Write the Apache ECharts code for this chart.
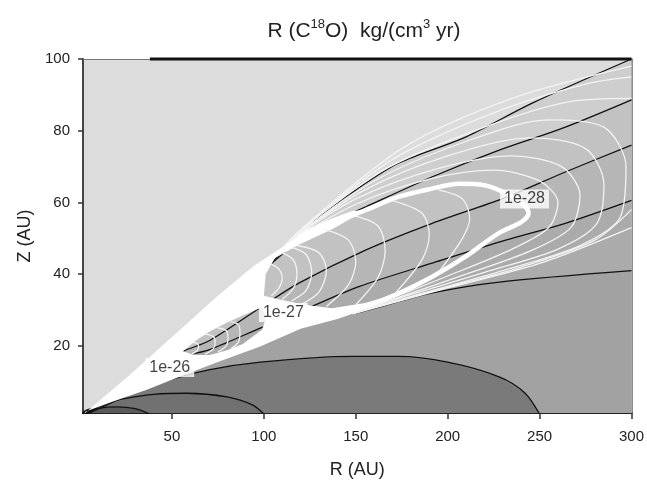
<!DOCTYPE html>
<html>
<head>
<meta charset="utf-8">
<script src="https://cdn.jsdelivr.net/npm/echarts@6/dist/echarts.min.js"></script>
<style>
  html, body { margin: 0; background: #fff; }
  #chart { width: 647px; height: 493px; }
</style>
</head>
<body>
<div id="chart"></div>
<script>
const FONT = "'Liberation Sans Narrow', 'Arial Narrow', 'Liberation Sans', sans-serif";

const xTicks = [50, 100, 150, 200, 250, 300];
const zTicks = [20, 40, 60, 80, 100];

// black contours of the background field, [R, Z]
const black0 = [[38, 100], [300, 100]];
const black1 = [[1, 0.2], [50, 18], [95, 39], [112, 46.5], [130, 56], [150, 63.5], [173.5, 71], [210, 78.3], [246, 87.7], [300, 100]];
const black2 = [[1, 0.2], [50, 17.5], [100, 41], [119, 50.2], [155.5, 58.8], [191.4, 67.1], [228, 74.6], [264, 81], [300, 88.6]];
const black3 = [[1, 0.4], [40, 14], [56, 18.5], [70.5, 21.5], [99, 31], [119, 37.5], [155.6, 46.8], [191.6, 54.2], [231, 61.3], [264, 68.5], [300, 76]];
const black4 = [[1, 0.4], [40, 12.5], [56, 17], [70.5, 19], [99, 25.2], [125, 30.8], [152, 36.6], [191, 43], [231.6, 49.5], [264, 54.2], [300, 60.6]];
const black5 = [[1, 0.3], [36, 8.6], [60, 13.5], [98, 21], [120, 26], [153, 29.5], [191, 34.7], [228, 37.8], [300, 41]];
const dome250 = [[1, 1], [3, 2], [12.5, 3.5], [25, 6], [43, 9.6], [70, 13.3], [98, 15.5], [148, 17.1], [173, 17.1], [200, 15.5], [228, 11.4], [242, 6.9], [250, 1]];
const dome100 = [[2, 1.5], [15, 4.2], [25, 5.4], [40, 6.5], [58, 6.8], [80, 5.8], [94, 3.5], [100, 1]];
const dome38 = [[1.5, 1.4], [10, 2.6], [20, 3], [30, 2.5], [38, 1]];
const bandColors = ['#cecece', '#c2c2c2', '#b6b6b6', '#ababab', '#a2a2a2', '#7a7a7a', '#717171', '#5a5a5a'];

// white mass of packed R contours
const whiteTop = [[0.5, 0.3], [10, 4.5], [25, 11], [50, 22.5], [75, 34], [95, 42.5], [110, 47.5]];
const fanTop = [[119.3, 51.8], [137.4, 55.6], [148, 57.6]];
const loop28 = [[119.3, 50.5], [137.4, 54.2], [155.5, 57.9], [173.5, 61.6], [191, 63.8], [206, 65.2], [220, 64.8], [232, 62.5], [241, 59.5], [244, 57], [240, 54.5], [228, 51.5], [209.7, 44.9], [191.6, 39.3], [173.5, 34.7], [155, 31], [137, 28.2], [119.3, 25.5]];
const fanBottom = [[160, 31], [140, 27.5], [120, 24.8]];
const whiteBottom = [[98, 19.8], [75, 15.5], [60, 12.6], [36, 7.7], [18, 4.5], [3, 1.7], [1, 0.3]];
const gapTopLeft = [[100, 34], [101, 40], [106, 44.5], [119.3, 48.3], [137.4, 52.6]];
const gapBottomLeft = [[155, 32], [137, 30.5], [122, 31.5], [108, 33]];
const gap27 = [[56, 18.5], [63, 21.5], [70.5, 24], [80, 26.5], [88.5, 28.5], [99, 30.8], [101, 27.5], [99, 24.5], [88.5, 20.5], [80, 18.8], [70.5, 17.5], [62, 17.5]];

// thin white contours outside 1e-28
const outer1 = [[112, 48.5], [150, 59.5], [190, 66.5], [225, 69], [250, 66], [260, 60], [255, 53], [235, 47], [200, 39.5], [165, 32.5], [135, 27.5]];
const outer2 = [[113, 49], [150, 61], [195, 69.5], [235, 73], [262, 70], [272, 62], [267, 53], [245, 46.5], [210, 40], [170, 33], [138, 27.8]];
const outer3 = [[114, 49.5], [155, 63.5], [200, 73], [245, 78], [275, 75], [285, 65], [281, 54], [260, 47], [220, 40.5], [178, 34], [140, 28]];
const outer4 = [[115, 50], [160, 66], [210, 77], [255, 83], [285, 81], [297, 70], [294, 56], [272, 48], [230, 41], [185, 34.5], [142, 28.3]];
const outer5a = [[116, 50.5], [165, 69], [220, 81], [265, 88], [300, 89]];
const outer5b = [[300, 58], [280, 49.5], [240, 42], [190, 35], [145, 28.6]];
const outer6a = [[117, 51], [170, 72], [225, 85], [275, 93], [300, 95]];
const outer6b = [[300, 53], [250, 43], [195, 35.5], [148, 28.9]];
const outer7 = [[118, 51.5], [175, 75], [235, 89], [300, 98]];

// thin white arcs between 1e-27 and 1e-28
const arc0a = [[103, 43], [108, 41.5], [110, 39], [108, 36], [104, 34]];
const arc0b = [[110, 46], [116, 44], [118, 40], [116, 36], [110, 33]];
const arc0c = [[115, 47.5], [123, 45.5], [126, 40.5], [123, 35.5], [115, 32.5]];
const arc1 = [[118, 48], [130, 46], [134, 41], [130, 35], [120, 31.5]];
const arc2 = [[133, 52.5], [146, 49.5], [150, 43.5], [146, 37], [134, 31]];
const arc3 = [[148, 56.5], [162, 53.5], [166, 46.5], [162, 39], [150, 31.5]];
const arc4 = [[170, 60.5], [186, 57], [190, 51], [186, 44], [172, 35]];
const arc5 = [[195, 63.5], [208, 61], [212, 55.5], [208, 50], [195, 40.5]];
// inside 1e-27
const arc6 = [[60, 21], [63.5, 20.8], [64.5, 19.8], [63.5, 18.6], [60, 17.6]];
const arc7 = [[68, 23.3], [72.5, 22.6], [73.5, 21], [72.5, 19.2], [68, 17.7]];
const arc8 = [[75, 25], [79.5, 24.3], [80.5, 22.3], [79.5, 20], [75, 18.3]];
const arc9 = [[82, 26.8], [86, 26], [87, 23.6], [86, 21], [82, 19.2]];

const labelPos = [[48.8, 14.0], [110.6, 29.3], [241.8, 61.0]];
const labelText = ['1e-26', '1e-27', '1e-28'];

function area(pts, color, z) {
  return {
    type: 'custom', coordinateSystem: 'cartesian2d', silent: true, z: z, clip: true,
    data: [[0, 0]],
    renderItem: function (params, api) {
      const ring = pts.concat([[pts[pts.length - 1][0], -10], [pts[0][0], -10]]);
      return { type: 'polygon', shape: { points: ring.map(p => api.coord(p)) }, style: { fill: color } };
    }
  };
}

function contour(pts, color, width, z) {
  return {
    type: 'line', data: pts, symbol: 'none', smooth: 0.3, silent: true, z: z, clip: true,
    lineStyle: { color: color, width: width }
  };
}

function ringPath(ring, api) {
  return ring.map((p, i) => {
    const c = api.coord(p);
    return (i ? 'L' : 'M') + c[0].toFixed(1) + ',' + c[1].toFixed(1);
  }).join('') + 'Z';
}

const whiteOuter = whiteTop.concat(fanTop, loop28.slice(2, 15), fanBottom, whiteBottom);
const gap28 = gapTopLeft.concat(loop28.slice(2, 15), gapBottomLeft);

const series = [];
[black1, black2, black3, black4, black5, dome250, dome100, dome38].forEach((l, i) => {
  series.push(area(l, bandColors[i], 1));
});
[black1, black2, black3, black4, black5, dome250, dome100, dome38].forEach(l => {
  series.push(contour(l, '#111', 1.3, 2));
});
series.push({
  type: 'custom', coordinateSystem: 'cartesian2d', silent: true, z: 3, clip: true,
  data: [[0, 0]],
  renderItem: function (params, api) {
    // holes drawn with reversed winding
    const d = ringPath(whiteOuter, api) + ringPath(gap28.slice().reverse(), api) + ringPath(gap27.slice().reverse(), api);
    return { type: 'path', shape: { pathData: d }, style: { fill: '#fff' } };
  }
});
[outer1, outer2, outer3, outer4, outer5a, outer5b, outer6a, outer6b, outer7,
 arc0a, arc0b, arc0c, arc1, arc2, arc3, arc4, arc5, arc6, arc7, arc8, arc9].forEach(l => {
  series.push(contour(l, '#f3f3f3', 1.3, 4));
});
series.push(contour(loop28, '#fff', 4.5, 5));
series.push(Object.assign(contour(black0, '#111', 3, 6), { clip: false, smooth: false }));
series.push({
  type: 'scatter', silent: true, z: 10, symbolSize: 0,
  data: labelPos.map((p, i) => ({ value: p, name: labelText[i] })),
  label: {
    show: true, position: 'inside', formatter: '{b}', color: '#111',
    fontSize: 16, fontFamily: FONT, backgroundColor: '#fff', padding: [2, 4, 1, 4]
  }
});

const chart = echarts.init(document.getElementById('chart'));
chart.setOption({
  animation: false,
  backgroundColor: '#fff',
  title: {
    text: 'R (C{s|18}O)  kg/(cm{s|3} yr)',
    left: 359, top: 13, textAlign: 'center',
    textStyle: {
      fontFamily: FONT, fontSize: 21, fontWeight: 'normal', color: '#222', lineHeight: 27,
      rich: { s: { fontFamily: FONT, fontSize: 13, color: '#222', verticalAlign: 'top', lineHeight: 14 } }
    }
  },
  grid: { left: 83, right: 14, top: 59, bottom: 80, show: true, backgroundColor: '#dcdcdc', borderWidth: 0 },
  xAxis: [{
    type: 'value', min: 1.6, max: 300, position: 'bottom',
    name: 'R (AU)', nameLocation: 'middle', nameGap: 48,
    nameTextStyle: { fontFamily: FONT, fontSize: 18, color: '#222' },
    axisLine: { lineStyle: { color: '#222', width: 2 } },
    axisTick: { customValues: xTicks, length: 6, lineStyle: { color: '#333', width: 1.5 } },
    axisLabel: { customValues: xTicks, margin: 16, fontFamily: FONT, fontSize: 15, color: '#222' },
    splitLine: { show: false }
  }, {
    type: 'value', min: 1.6, max: 300, position: 'top',
    axisLine: { lineStyle: { color: '#777', width: 1.2 } },
    axisTick: { show: false }, axisLabel: { show: false }, splitLine: { show: false }
  }],
  yAxis: [{
    type: 'value', min: 1.3, max: 100, position: 'left',
    name: 'Z (AU)', nameLocation: 'middle', nameGap: 46, nameRotate: 90,
    nameTextStyle: { fontFamily: FONT, fontSize: 18, color: '#222' },
    axisLine: { lineStyle: { color: '#444', width: 2 } },
    axisTick: { customValues: zTicks, length: 5, lineStyle: { color: '#333', width: 1.5 } },
    axisLabel: { customValues: zTicks, margin: 13, fontFamily: FONT, fontSize: 15, color: '#222' },
    splitLine: { show: false }
  }, {
    type: 'value', min: 1.3, max: 100, position: 'right',
    axisLine: { lineStyle: { color: '#666', width: 1.5 } },
    axisTick: { show: false }, axisLabel: { show: false }, splitLine: { show: false }
  }],
  series: series
});
</script>
</body>
</html>
